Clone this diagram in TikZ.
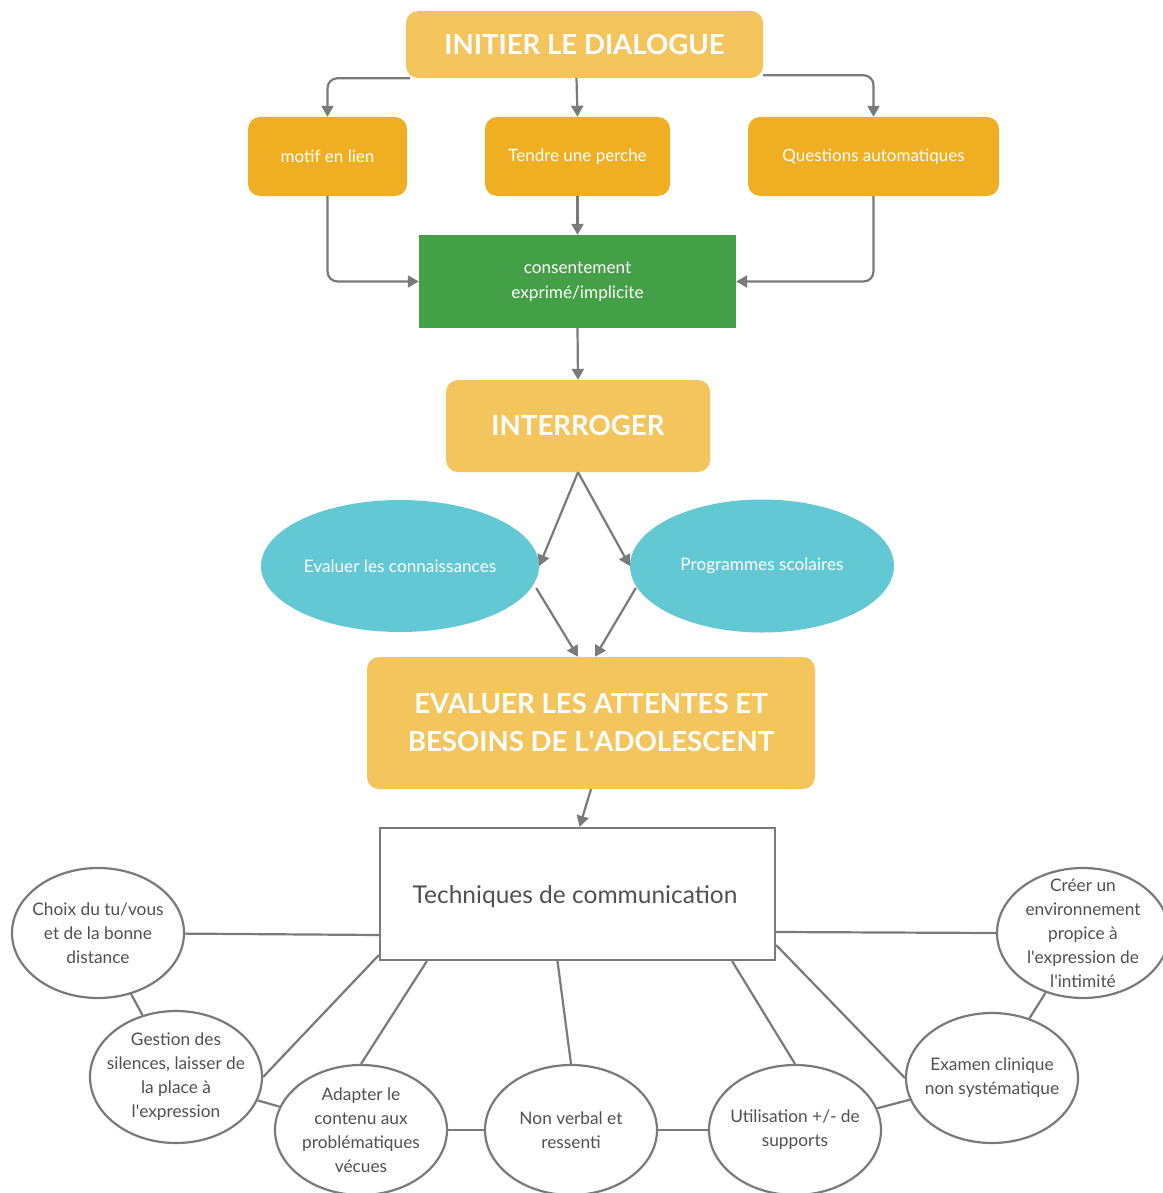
\documentclass[tikz,border=0pt]{standalone}
\usepackage{fontspec}
\setmainfont{Lato}
\usetikzlibrary{arrows.meta,shapes.geometric,calc}
\definecolor{lightor}{HTML}{F4C55C}
\definecolor{darkor}{HTML}{F0AF22}
\definecolor{grn}{HTML}{43A047}
\definecolor{cyn}{HTML}{62C9D4}
\definecolor{lin}{HTML}{7A7A7A}
\definecolor{txt}{HTML}{505050}
\newcommand{\apos}{\textquotesingle}
\begin{document}
\begin{tikzpicture}[x=1pt,y=-1pt,
  bigbox/.style={fill=lightor,rounded corners=12pt,text=white,align=center,inner sep=0pt,font=\bfseries\fontsize{27.6}{38}\selectfont},
  midbox/.style={fill=darkor,rounded corners=12pt,text=white,align=center,inner sep=0pt,minimum height=79pt,font=\fontsize{17}{20}\selectfont},
  cyell/.style={ellipse,fill=cyn,text=white,inner sep=0pt,font=\fontsize{17.2}{20}\selectfont},
  circ/.style={ellipse,draw=lin,line width=2.2pt,fill=white,inner sep=0pt,minimum width=172pt,minimum height=130pt},
  circt/.style={text=txt,align=center,inner sep=0pt,font=\fontsize{17.3}{24}\selectfont},
  arr/.style={draw=lin,line width=2.2pt,-{Triangle[length=11pt,width=12pt]}},
  con/.style={draw=lin,line width=2.2pt},
]
\useasboundingbox (0,0) rectangle (1162,1193);
\fill[white] (0,0) rectangle (1162,1193);

\node[bigbox,minimum width=357pt,minimum height=67pt] (init) at (584.5,44.5) {INITIER LE DIALOGUE};
\node[midbox,minimum width=159pt] (motif) at (327.5,156.5) {motif en lien};
\node[midbox,minimum width=185pt] (tendre) at (577.5,156.5) {Tendre une perche};
\node[midbox,minimum width=251pt] (quest) at (873.5,156.5) {Questions automatiques};
\node[fill=grn,text=white,align=center,inner sep=0pt,minimum width=317pt,minimum height=93pt,font=\fontsize{17.2}{25}\selectfont] (cons) at (577.5,281.5) {consentement\\exprimé/implicite};
\node[bigbox,minimum width=264pt,minimum height=92pt] (inter) at (578,426) {INTERROGER};
\node[cyell,minimum width=278pt,minimum height=132pt] (ell1) at (400,566) {Evaluer les connaissances};
\node[cyell,minimum width=264pt,minimum height=133pt] (ell2) at (762,566) {Programmes scolaires};
\node[bigbox,minimum width=448pt,minimum height=132pt] (eval) at (591,723) {EVALUER LES ATTENTES ET\\BESOINS DE L\apos ADOLESCENT};
\node[draw=lin,line width=2.2pt,fill=white,inner sep=0pt,minimum width=395pt,minimum height=132pt] (tech) at (577.5,894) {};
\node[text=txt,font=\fontsize{24.5}{28}\selectfont,anchor=base] (techt) at (575,903) {Techniques de communication};

\node[circ] (choix) at (98,933) {};
\node[circt] (choixt) at (choix) {Choix du tu/vous\\et de la bonne\\distance};
\node[circ,minimum height=132pt] (gest) at (176,1077) {};
\node[circt] (gestt) at (gest) {Gestion des\\silences, laisser de\\la place à\\l\apos expression};
\node[circ] (adapt) at (361,1130) {};
\node[circt] (adaptt) at (adapt) {Adapter le\\contenu aux\\problématiques\\vécues};
\node[circ] (nonv) at (571,1130) {};
\node[circt] (nonvt) at (nonv) {Non verbal et\\ressenti};
\node[circ] (util) at (795,1130) {};
\node[circt] (utilt) at (util) {Utilisation +/- de\\supports};
\node[circ] (exam) at (992,1078) {};
\node[circt] (examt) at (exam) {Examen clinique\\non systématique};
\node[circ] (creer) at (1083,933) {};
\node[circt] (creert) at (creer) {Créer un\\environnement\\propice à\\l\apos expression de\\l\apos intimité};

% arrows top
\draw[arr,rounded corners=10pt] ([xshift=4pt]init.south west) -| (motif.north);
\draw[arr] ([xshift=-8pt]init.south) -- (tendre.north);
\draw[arr,rounded corners=10pt] ([yshift=3pt]init.south east) -| (quest.north);
\draw[arr,rounded corners=10pt] (motif.south) |- (cons.west);
\draw[arr] (tendre.south) -- (cons.north);
\draw[arr,rounded corners=10pt] (quest.south) |- (cons.east);
\draw[arr] (cons.south) -- (inter.north);
\draw[arr] (inter.south) -- (ell1.east);
\draw[arr] (inter.south) -- (ell2.west);
\draw[arr] ($(ell1.east)+(-3,22)$) -- ([xshift=-13pt]eval.north);
\draw[arr] ($(ell2.west)+(6,22)$) -- ([xshift=4pt]eval.north);
\draw[arr] (eval.south) -- ([xshift=2pt]tech.north);

% connectors bottom
\draw[con] (choix) -- ([yshift=-41pt]tech.west);
\draw[con] (gest.east) -- ([yshift=-61pt]tech.west);
\draw[con] (adapt.north) -- ([xshift=48pt]tech.south west);
\draw[con] (nonv.north) -- ([xshift=-20pt]tech.south);
\draw[con] (util.north) -- ([xshift=-44pt]tech.south east);
\draw[con] (exam.west) -- ([yshift=-51pt]tech.east);
\draw[con] (creer.west) -- ([yshift=-38pt]tech.east);
\draw[con] (choix) -- (gest);
\draw[con] (gest) -- (adapt);
\draw[con] (adapt) -- (nonv);
\draw[con] (nonv) -- (util);
\draw[con] (util) -- (exam);
\draw[con] (exam) -- (creer);
\end{tikzpicture}
\end{document}
